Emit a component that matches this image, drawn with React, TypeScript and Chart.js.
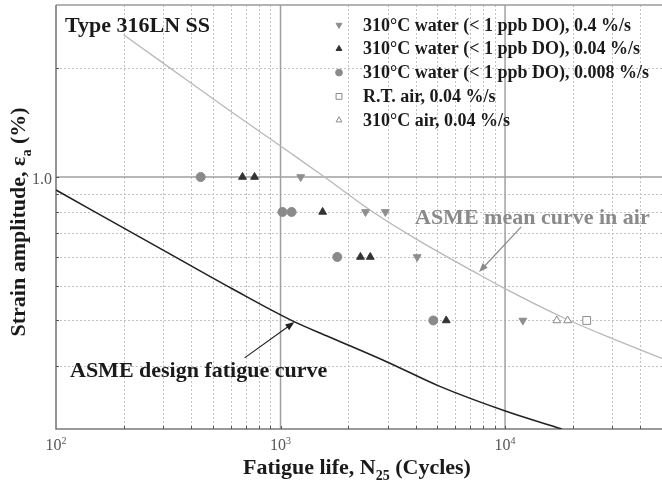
import React, { useEffect, useRef } from 'react';
import { Chart, registerables } from 'chart.js';

Chart.register(...registerables);

const FAMILY = "'Liberation Serif', 'Times New Roman', 'DejaVu Serif', serif";

// ---- data (fatigue life in cycles, strain amplitude in %) ----
const water04Life = [1230, 2390, 2930, 4060, 12000];
const water04Strain = [1.0, 0.8, 0.8, 0.6, 0.4];

const water004Life = [677, 766, 1540, 2270, 2510, 5470];
const water004Strain = [1.0, 1.0, 0.8, 0.6, 0.6, 0.4];

const water0008Life = [441, 1020, 1120, 1790, 4790];
const water0008Strain = [1.0, 0.8, 0.8, 0.6, 0.4];

const rtAirLife = [23100];
const rtAirStrain = [0.4];

const hotAirLife = [17000, 19000];
const hotAirStrain = [0.4, 0.4];

const meanCurveLife = [200, 300, 610, 1120, 1570, 2540, 4150, 7430, 9700, 17900, 26200, 50000];
const meanCurveStrain = [2.48, 2.07, 1.51, 1.16, 1.0, 0.805, 0.665, 0.542, 0.495, 0.409, 0.369, 0.314];

const designCurveLife = [100, 300, 612, 1130, 1650, 3050, 5090, 10100, 17900];
const designCurveStrain = [0.92, 0.627, 0.489, 0.399, 0.36, 0.305, 0.263, 0.224, 0.2];

// ---- axes ----
const xMin = 100;
const xMax = 50000;
const yMin = 0.2;
const yMax = 3.0;
const xDecadeValues = [100, 1000, 10000];
const xDecadeExponents = ['2', '3', '4'];
const yTickValues = [1.0];
const yTickLabels = ['1.0'];

const legendLabels = [
  '310°C water (< 1 ppb DO), 0.4 %/s',
  '310°C water (< 1 ppb DO), 0.04 %/s',
  '310°C water (< 1 ppb DO), 0.008 %/s',
  'R.T. air, 0.04 %/s',
  '310°C air, 0.04 %/s',
];

const pairs = (xs: number[], ys: number[]) => xs.map((v, i) => ({ x: v, y: ys[i] }));

const styles = [
  { pointStyle: 'triangle', rotation: 180, fill: '#8e8e8e', stroke: '#8e8e8e', r: 4.5 },
  { pointStyle: 'triangle', rotation: 0, fill: '#333333', stroke: '#333333', r: 4.5 },
  { pointStyle: 'circle', rotation: 0, fill: '#8a8a8a', stroke: '#8a8a8a', r: 4.5 },
  { pointStyle: 'rect', rotation: 0, fill: '#ffffff', stroke: '#8a8a8a', r: 5.5 },
  { pointStyle: 'triangle', rotation: 0, fill: '#ffffff', stroke: '#8a8a8a', r: 4.5 },
];

function gridValues(lo: number, hi: number): { minor: number[]; major: number[] } {
  const minor: number[] = [];
  const major: number[] = [];
  let dec = Math.pow(10, Math.floor(Math.log10(lo)));
  while (dec <= hi) {
    for (let m = 1; m <= 9; m++) {
      const v = +(m * dec).toPrecision(6);
      if (v <= lo * 1.0001 || v >= hi * 0.9999) continue;
      if (m === 1) major.push(v);
      else minor.push(v);
    }
    dec *= 10;
  }
  return { minor, major };
}

type Part = { t: string; s?: 'sub' | 'sup' };

function drawRich(
  ctx: CanvasRenderingContext2D,
  parts: Part[],
  x: number,
  y: number,
  size: number,
  weight: string,
  align: 'center' | 'left'
) {
  const fonts = parts.map((p) => `${weight} ${p.s ? Math.round(size * 0.65) : size}px ${FAMILY}`);
  const widths = parts.map((p, i) => {
    ctx.font = fonts[i];
    return ctx.measureText(p.t).width;
  });
  const total = widths.reduce((a, b) => a + b, 0);
  let cx = align === 'center' ? x - total / 2 : x;
  ctx.textAlign = 'left';
  ctx.textBaseline = 'alphabetic';
  parts.forEach((p, i) => {
    ctx.font = fonts[i];
    const dy = p.s === 'sub' ? size * 0.25 : p.s === 'sup' ? -size * 0.4 : 0;
    ctx.fillText(p.t, cx, y + dy);
    cx += widths[i];
  });
}

function drawMarker(
  ctx: CanvasRenderingContext2D,
  style: string,
  rotation: number,
  x: number,
  y: number,
  r: number,
  fill: string,
  stroke: string
) {
  ctx.save();
  ctx.beginPath();
  if (style === 'circle') {
    ctx.arc(x, y, r, 0, Math.PI * 2);
  } else if (style === 'rect') {
    const s = r * Math.SQRT1_2;
    ctx.rect(x - s, y - s, 2 * s, 2 * s);
  } else {
    let rad = (rotation * Math.PI) / 180;
    ctx.moveTo(x + Math.sin(rad) * r, y - Math.cos(rad) * r);
    rad += (2 * Math.PI) / 3;
    ctx.lineTo(x + Math.sin(rad) * r, y - Math.cos(rad) * r);
    rad += (2 * Math.PI) / 3;
    ctx.lineTo(x + Math.sin(rad) * r, y - Math.cos(rad) * r);
    ctx.closePath();
  }
  ctx.fillStyle = fill;
  ctx.fill();
  ctx.strokeStyle = stroke;
  ctx.lineWidth = 1;
  ctx.stroke();
  ctx.restore();
}

function arrow(ctx: CanvasRenderingContext2D, x1: number, y1: number, x2: number, y2: number, color: string, w: number) {
  const ang = Math.atan2(y2 - y1, x2 - x1);
  const hl = 9;
  const hw = 3.5;
  ctx.save();
  ctx.strokeStyle = color;
  ctx.fillStyle = color;
  ctx.lineWidth = w;
  ctx.beginPath();
  ctx.moveTo(x1, y1);
  ctx.lineTo(x2 - Math.cos(ang) * hl * 0.8, y2 - Math.sin(ang) * hl * 0.8);
  ctx.stroke();
  ctx.beginPath();
  ctx.moveTo(x2, y2);
  ctx.lineTo(x2 - Math.cos(ang) * hl - Math.sin(ang) * hw, y2 - Math.sin(ang) * hl + Math.cos(ang) * hw);
  ctx.lineTo(x2 - Math.cos(ang) * hl + Math.sin(ang) * hw, y2 - Math.sin(ang) * hl - Math.cos(ang) * hw);
  ctx.closePath();
  ctx.fill();
  ctx.restore();
}

const decorPlugin = {
  id: 'figureDecor',
  beforeDatasetsDraw(chart: any) {
    const { ctx, chartArea: a, scales } = chart;
    const xs = scales.x;
    const ys = scales.y;
    const gx = gridValues(xMin, xMax);
    const gy = gridValues(yMin, yMax);
    ctx.save();
    // minor dashed grid
    ctx.setLineDash([2, 2]);
    ctx.strokeStyle = '#c2c2c2';
    ctx.lineWidth = 1;
    ctx.beginPath();
    gx.minor.forEach((v) => {
      const px = Math.round(xs.getPixelForValue(v)) + 0.5;
      ctx.moveTo(px, a.top);
      ctx.lineTo(px, a.bottom);
    });
    gy.minor.forEach((v) => {
      const py = Math.round(ys.getPixelForValue(v)) + 0.5;
      ctx.moveTo(a.left, py);
      ctx.lineTo(a.right, py);
    });
    ctx.stroke();
    ctx.setLineDash([]);
    // major solid grid
    ctx.strokeStyle = '#a0a0a0';
    ctx.lineWidth = 1.5;
    ctx.beginPath();
    gx.major.forEach((v) => {
      const px = xs.getPixelForValue(v);
      ctx.moveTo(px, a.top);
      ctx.lineTo(px, a.bottom);
    });
    gy.major.forEach((v) => {
      const py = ys.getPixelForValue(v);
      ctx.moveTo(a.left, py);
      ctx.lineTo(a.right, py);
    });
    ctx.stroke();
    // top frame
    ctx.strokeStyle = '#9a9a9a';
    ctx.lineWidth = 1.5;
    ctx.beginPath();
    ctx.moveTo(a.left, a.top);
    ctx.lineTo(a.right, a.top);
    ctx.stroke();
    // axes
    ctx.strokeStyle = '#7a7a7a';
    ctx.lineWidth = 1.6;
    ctx.beginPath();
    ctx.moveTo(a.left, a.top);
    ctx.lineTo(a.left, a.bottom);
    ctx.lineTo(a.right, a.bottom);
    ctx.stroke();
    // small inward tick marks
    ctx.strokeStyle = '#555555';
    ctx.lineWidth = 1;
    ctx.beginPath();
    [...gx.minor, ...gx.major].forEach((v) => {
      const px = Math.round(xs.getPixelForValue(v)) + 0.5;
      ctx.moveTo(px, a.bottom);
      ctx.lineTo(px, a.bottom - 3);
    });
    [...gy.minor, ...gy.major].forEach((v) => {
      const py = Math.round(ys.getPixelForValue(v)) + 0.5;
      ctx.moveTo(a.left, py);
      ctx.lineTo(a.left + 3, py);
    });
    ctx.stroke();
    ctx.restore();
  },
  afterDatasetsDraw(chart: any) {
    const { ctx, chartArea: a, scales } = chart;
    const xs = scales.x;
    const ys = scales.y;
    ctx.save();

    // tick labels
    ctx.fillStyle = '#555555';
    xDecadeValues.forEach((v, i) => {
      const px = xs.getPixelForValue(v);
      drawRich(ctx, [{ t: '10' }, { t: xDecadeExponents[i], s: 'sup' }], px, a.bottom + 21, 16, 'normal', 'center');
    });
    yTickValues.forEach((v, i) => {
      const py = ys.getPixelForValue(v);
      ctx.font = `normal 16px ${FAMILY}`;
      ctx.textAlign = 'right';
      ctx.textBaseline = 'middle';
      ctx.fillText(yTickLabels[i], a.left - 4, py + 3);
    });

    // axis titles
    ctx.fillStyle = '#1a1a1a';
    drawRich(
      ctx,
      [{ t: 'Fatigue life, N' }, { t: '25', s: 'sub' }, { t: ' (Cycles)' }],
      357,
      474,
      22,
      'bold',
      'center'
    );
    ctx.save();
    ctx.translate(25, 222);
    ctx.rotate(-Math.PI / 2);
    drawRich(
      ctx,
      [{ t: 'Strain amplitude, ε' }, { t: 'a', s: 'sub' }, { t: ' (%)' }],
      0,
      0,
      22,
      'bold',
      'center'
    );
    ctx.restore();

    // in-plot title
    ctx.fillStyle = '#1a1a1a';
    ctx.font = `bold 22px ${FAMILY}`;
    ctx.textAlign = 'left';
    ctx.textBaseline = 'alphabetic';
    ctx.fillText('Type 316LN SS', 65, 32);

    // legend
    legendLabels.forEach((label, i) => {
      const yy = 25 + i * 23.8;
      const st = styles[i];
      drawMarker(ctx, st.pointStyle, st.rotation, 339, yy, st.r * 0.75, st.fill, st.stroke);
      ctx.fillStyle = '#1a1a1a';
      ctx.font = `bold 18px ${FAMILY}`;
      ctx.textAlign = 'left';
      ctx.textBaseline = 'middle';
      ctx.fillText(label, 363, yy + 1);
    });

    // curve annotations
    ctx.fillStyle = '#8a8a8a';
    ctx.font = `bold 22px ${FAMILY}`;
    ctx.textAlign = 'left';
    ctx.textBaseline = 'alphabetic';
    ctx.fillText('ASME mean curve in air', 415, 224);
    arrow(
      ctx,
      xs.getPixelForValue(11800),
      ys.getPixelForValue(0.727),
      xs.getPixelForValue(7660),
      ys.getPixelForValue(0.545),
      '#8a8a8a',
      1.2
    );

    ctx.fillStyle = '#1a1a1a';
    ctx.fillText('ASME design fatigue curve', 70, 377);
    arrow(
      ctx,
      xs.getPixelForValue(692),
      ys.getPixelForValue(0.315),
      xs.getPixelForValue(1153),
      ys.getPixelForValue(0.396),
      '#222222',
      1.2
    );

    ctx.restore();
  },
};

export default function App() {
  const ref = useRef<HTMLCanvasElement | null>(null);

  useEffect(() => {
    if (!ref.current) return;
    const scatterSets = [
      [water04Life, water04Strain],
      [water004Life, water004Strain],
      [water0008Life, water0008Strain],
      [rtAirLife, rtAirStrain],
      [hotAirLife, hotAirStrain],
    ].map(([xs, ys], i) => ({
      label: legendLabels[i],
      data: pairs(xs, ys),
      showLine: false,
      pointStyle: styles[i].pointStyle as any,
      rotation: styles[i].rotation,
      pointRadius: styles[i].r,
      backgroundColor: styles[i].fill,
      borderColor: styles[i].stroke,
      borderWidth: 1,
      order: 0,
    }));

    const chart = new Chart(ref.current, {
      type: 'scatter',
      data: {
        datasets: [
          {
            label: 'ASME mean curve in air',
            data: pairs(meanCurveLife, meanCurveStrain),
            showLine: true,
            pointRadius: 0,
            borderColor: '#b8b8b8',
            borderWidth: 1.3,
            cubicInterpolationMode: 'monotone',
            order: 2,
          } as any,
          {
            label: 'ASME design fatigue curve',
            data: pairs(designCurveLife, designCurveStrain),
            showLine: true,
            pointRadius: 0,
            borderColor: '#222222',
            borderWidth: 1.6,
            cubicInterpolationMode: 'monotone',
            order: 2,
          } as any,
          ...scatterSets,
        ],
      },
      options: {
        animation: false,
        responsive: false,
        devicePixelRatio: 1,
        layout: { autoPadding: false, padding: { left: 56, top: 5, right: 0, bottom: 58 } },
        plugins: { legend: { display: false }, tooltip: { enabled: false } },
        scales: {
          x: { type: 'logarithmic', min: xMin, max: xMax, display: false },
          y: { type: 'logarithmic', min: yMin, max: yMax, display: false },
        },
      },
      plugins: [decorPlugin],
    });
    return () => chart.destroy();
  }, []);

  return (
    <div style={{ position: 'absolute', left: 0, top: 0, width: 662, height: 487, background: '#ffffff' }}>
      <canvas ref={ref} width={662} height={487} style={{ display: 'block' }} />
    </div>
  );
}
